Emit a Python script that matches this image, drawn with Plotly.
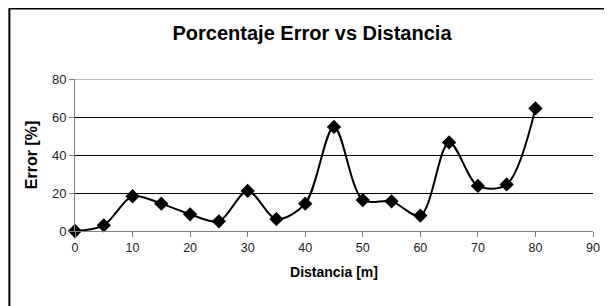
import plotly.graph_objects as go

distancia = [0, 5, 10, 15, 20, 25, 30, 35, 40, 45, 50, 55, 60, 65, 70, 75, 80]
error_pct = [0, 3.0, 18.3, 14.4, 8.8, 5.1, 21.1, 6.3, 14.4, 54.8, 16.3, 15.6, 8.1, 46.6, 23.7, 24.5, 64.5]

x_ticks = [0, 10, 20, 30, 40, 50, 60, 70, 80, 90]
y_ticks = [0, 20, 40, 60, 80]

font_family = "Liberation Sans, Arial, sans-serif"

W, H = 604, 298
L, R, T, B = 67, 12, 71, 75
PW, PH = W - L - R, H - T - B

fig = go.Figure()
fig.add_trace(go.Scatter(
    x=distancia, y=error_pct, mode="lines+markers",
    line=dict(color="black", width=2, shape="spline", smoothing=0.9),
    marker=dict(symbol="diamond", size=11, color="black"),
    cliponaxis=False,
    showlegend=False,
))

fig.update_layout(
    width=W, height=H,
    margin=dict(l=L, r=R, t=T, b=B),
    paper_bgcolor="white", plot_bgcolor="white",
    font=dict(family=font_family, color="black", size=12),
    title=dict(text="<b>Porcentaje Error vs Distancia</b>", x=304 / W, xanchor="center",
               y=1 - 25 / H, yanchor="middle", yref="container",
               font=dict(size=20, family=font_family, color="black")),
    xaxis=dict(range=[0, 90], tickvals=x_ticks, showgrid=False, zeroline=False,
               showline=True, linecolor="#808080", linewidth=1,
               ticks="outside", ticklen=5, tickcolor="#808080",
               tickfont=dict(size=12.5, color="#222"),
               title=dict(text="<b>Distancia [m]</b>", font=dict(size=14), standoff=13)),
    yaxis=dict(range=[0, 80], tickvals=y_ticks, showgrid=True, gridcolor="black", gridwidth=1,
               zeroline=False, showline=True, linecolor="#808080", linewidth=1,
               ticks="outside", ticklen=5, tickcolor="#808080",
               tickfont=dict(size=13, color="#222"),
               title=dict(text="<b>Error [%]</b>", font=dict(size=16), standoff=10)),
    shapes=[
        dict(type="line", xref="paper", yref="y", x0=0, x1=1, y0=80, y1=80,
             line=dict(color="#c0c0c0", width=2), layer="above"),
        dict(type="line", xref="paper", yref="paper", x0=(0 - L) / PW, x1=(W - L) / PW,
             y0=(T + PH - 0.5) / PH, y1=(T + PH - 0.5) / PH, line=dict(color="black", width=2)),
        dict(type="line", xref="paper", yref="paper", x0=(0.5 - L) / PW, x1=(0.5 - L) / PW,
             y0=(T + PH) / PH, y1=(T + PH - H) / PH, line=dict(color="black", width=2)),
    ],
)

fig.write_html("out.html")
